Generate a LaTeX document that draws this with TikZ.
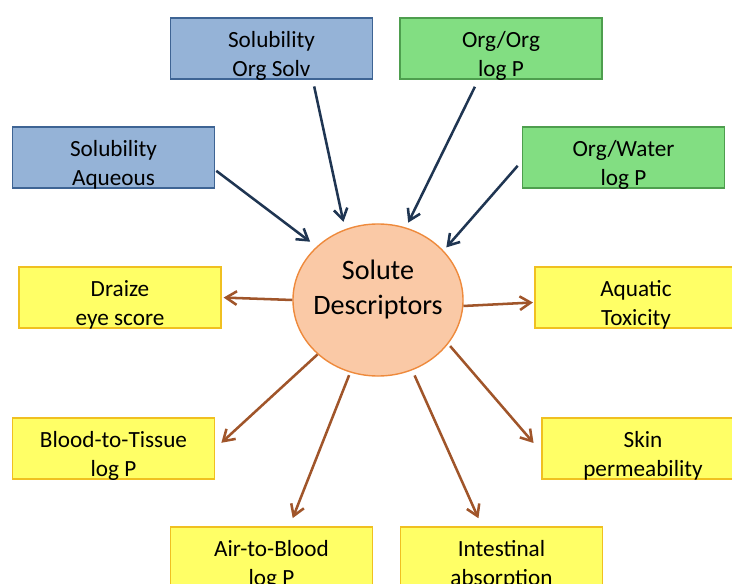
\documentclass[tikz,border=0pt]{standalone}
\usepackage{fontspec}
\setmainfont{Carlito}
\usetikzlibrary{arrows.meta,calc,shapes.geometric}

\definecolor{inblue}{HTML}{95B3D7}
\definecolor{inbluedk}{HTML}{3E6494}
\definecolor{ingreen}{HTML}{82DE82}
\definecolor{ingreendk}{HTML}{4E9E4E}
\definecolor{outyel}{HTML}{FFFF66}
\definecolor{outyeldk}{HTML}{F0C020}
\definecolor{peach}{HTML}{FAC9A6}
\definecolor{peachdk}{HTML}{EE8A3C}
\definecolor{navy}{HTML}{1F3552}
\definecolor{rust}{HTML}{A0552A}

% two lines, set low in the box
\newcommand{\twoln}[2]{\rule{0pt}{19pt}#1\\#2}

\begin{document}
\begin{tikzpicture}[
  x=0.025cm, y=-0.025cm,
  box/.style={rectangle, minimum width=5.05cm, minimum height=1.52cm,
    inner sep=0pt, align=center, line width=0.9pt, text depth=0pt,
    font=\fontsize{16.5}{20.5}\selectfont},
  blu/.style={box, draw=inbluedk, fill=inblue},
  grn/.style={box, draw=ingreendk, fill=ingreen},
  yel/.style={box, draw=outyeldk, fill=outyel},
  hub/.style={ellipse, draw=peachdk, fill=peach, line width=1pt,
    minimum width=4.25cm, minimum height=3.8cm, inner sep=0pt},
  hubtxt/.style={align=center, font=\fontsize{20}{24.5}\selectfont,
    yshift=7.5pt},
  ein/.style={-{Straight Barb[length=2.7mm,width=3.4mm]}, draw=navy,
    line width=1.8pt},
  eout/.style={-{Straight Barb[length=2.7mm,width=3.4mm]}, draw=rust,
    line width=1.8pt},
]
\useasboundingbox (0,0) rectangle (732,584);
\clip (0,0) rectangle (732,584);
% centre
\node[hub, label={[hubtxt]center:Solute\\Descriptors}] (sd) at (378,300) {};
% inputs (blue / green)
\node[blu] (solorg) at (271.5,48.5) {\twoln{Solubility}{Org Solv}};
\node[grn] (orgorg) at (501,48.5) {\twoln{Org/Org}{log P}};
\node[blu] (solaq) at (113.5,157.5) {\twoln{Solubility}{Aqueous}};
\node[grn] (orgwat) at (623.5,157.5) {\twoln{Org/Water}{log P}};
% outputs (yellow)
\node[yel] (draize) at (120,297.5) {\twoln{Draize}{eye score}};
\node[yel] (aquatic) at (636,297.5) {\twoln{Aquatic}{Toxicity}};
\node[yel] (bloodt) at (113.5,448.5) {\twoln{Blood-to-Tissue}{log P}};
\node[yel] (skin) at (643,448.5) {\twoln{Skin}{permeability}};
\node[yel] (airb) at (271.5,557.5) {\twoln{Air-to-Blood}{log P}};
\node[yel] (intest) at (501.5,557.5) {\twoln{Intestinal}{absorption}};
% edges into the descriptors
\draw[ein, shorten <=1pt, shorten >=5.7pt] (solaq.-7) -- (sd.139);
\draw[ein, shorten <=5pt, shorten >=5.3pt] (solorg.-37) -- (sd.115);
\draw[ein, shorten <=5.7pt, shorten >=3.8pt] (orgorg.234) -- (sd.69);
\draw[ein, shorten <=4.5pt, shorten >=3pt] (orgwat.182) -- (sd.37);
% edges out of the descriptors
\draw[eout, shorten >=1.4pt] (sd.west) -- (draize.east);
\draw[eout, shorten >=1pt] (sd.-4) -- ([yshift=-3.5pt]aquatic.west);
\draw[eout, shorten >=6pt] (sd.222) -- (bloodt.east);
\draw[eout, shorten <=2pt, shorten >=6.4pt] (sd.249) -- (airb.60);
\draw[eout, shorten <=4pt, shorten >=6.4pt] (sd.296) -- (intest.122);
\draw[eout, shorten <=2pt, shorten >=8.5pt] (sd.328) -- (skin.182);
\end{tikzpicture}
\end{document}
